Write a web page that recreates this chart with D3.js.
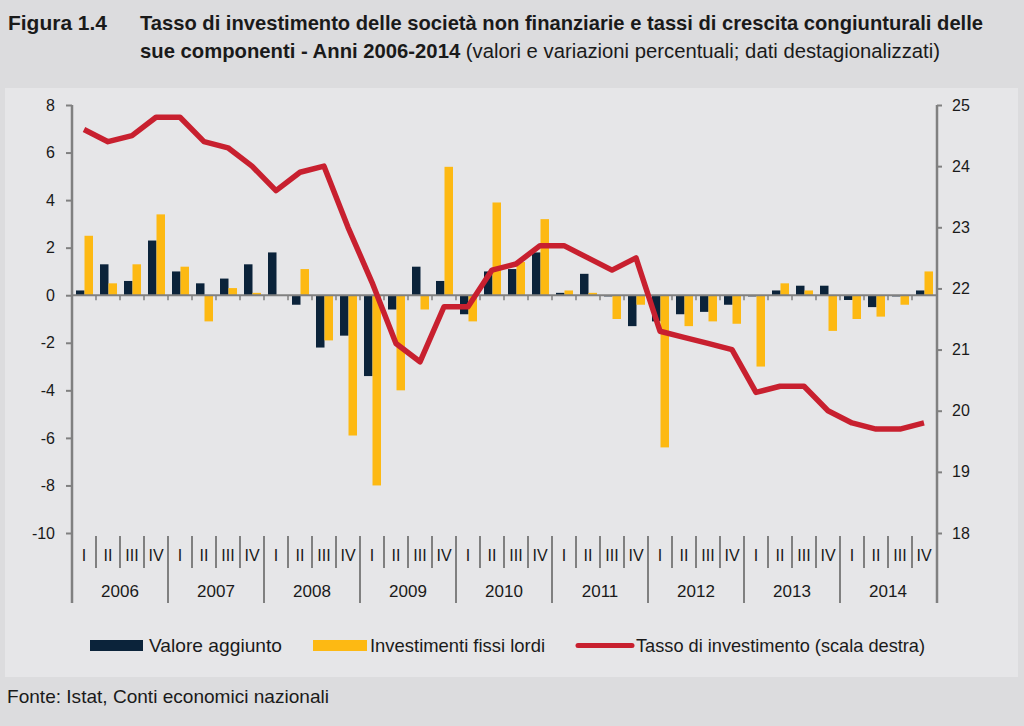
<!DOCTYPE html>
<html><head><meta charset="utf-8">
<script src="https://cdn.jsdelivr.net/npm/d3@7"></script>
<style>
html,body{margin:0;padding:0;background:#dcdcde;}
svg{display:block;}
</style></head>
<body>
<svg id="chart" width="1024" height="726"></svg>
<script>
const years = ["2006","2007","2008","2009","2010","2011","2012","2013","2014"];
const quarterLabels = ["I","II","III","IV"];
const valoreAggiunto = [0.2,1.3,0.6,2.3, 1.0,0.5,0.7,1.3, 1.8,-0.4,-2.2,-1.7, -3.4,-0.6,1.2,0.6,
  -0.8,1.0,1.1,1.8, 0.1,0.9,-0.05,-1.3, -1.1,-0.8,-0.7,-0.4, -0.05,0.2,0.4,0.4, -0.2,-0.5,-0.05,0.2];
const investimenti = [2.5,0.5,1.3,3.4, 1.2,-1.1,0.3,0.1, 0.0,1.1,-1.9,-5.9, -8.0,-4.0,-0.6,5.4,
  -1.1,3.9,1.4,3.2, 0.2,0.1,-1.0,-0.4, -6.4,-1.3,-1.1,-1.2, -3.0,0.5,0.2,-1.5, -1.0,-0.9,-0.4,1.0];
const tassoInvestimento = [24.6,24.4,24.5,24.8, 24.8,24.4,24.3,24.0, 23.6,23.9,24.0,23.0, 22.1,21.1,20.8,21.7,
  21.7,22.3,22.4,22.7, 22.7,22.5,22.3,22.5, 21.3,21.2,21.1,21.0, 20.3,20.4,20.4,20.0, 19.8,19.7,19.7,19.8];
const leftTicks = [8,6,4,2,0,-2,-4,-6,-8,-10];
const rightTicks = [25,24,23,22,21,20,19,18];
const seriesNames = ["Valore  aggiunto","Investimenti fissi lordi","Tasso di investimento (scala destra)"];

const colDark = "#0b233a", colYellow = "#fdb913", colRed = "#c8202f", colAxis = "#808080", colText = "#1a1a1a";
const fontMain = "Arial,'Liberation Sans',sans-serif";

const svg = d3.select("#chart");
const quarters = [];
years.forEach(y => quarterLabels.forEach(q => quarters.push(y + "-" + q)));

const L = 72, R = 936, T = 105, B = 533;
const x0 = d3.scaleBand().domain(quarters).range([L, R]).padding(0);
const x1 = d3.scaleBand().domain(["va","inv"]).range([4, 21]).padding(0);
const yL = d3.scaleLinear().domain([-10, 8]).range([B, T]);
const yR = d3.scaleLinear().domain([18, 25]).range([B, T]);

// panel
svg.append("rect").attr("x",5).attr("y",88).attr("width",1013).attr("height",589).attr("fill","#e6e6e8");

// title
const title = svg.append("g").attr("font-family",fontMain).attr("fill",colText).attr("font-size",20.5);
title.append("text").attr("x",8).attr("y",30).attr("font-weight","bold")
  .attr("textLength",99).attr("lengthAdjust","spacingAndGlyphs").text("Figura 1.4");
title.append("text").attr("x",140).attr("y",30).attr("font-weight","bold")
  .attr("textLength",843).attr("lengthAdjust","spacingAndGlyphs")
  .text("Tasso di investimento delle società non finanziarie e tassi di crescita congiunturali delle");
const t2 = title.append("text").attr("x",140).attr("y",58).attr("textLength",800).attr("lengthAdjust","spacingAndGlyphs");
t2.append("tspan").attr("font-weight","bold").text("sue componenti - Anni 2006-2014");
t2.append("tspan").text(" (valori e variazioni percentuali; dati destagionalizzati)");

// bars
const data = quarters.map((q,i) => ({q, va: valoreAggiunto[i], inv: investimenti[i], rate: tassoInvestimento[i]}));
const gBars = svg.append("g");
[["va",colDark],["inv",colYellow]].forEach(([k,c]) => {
  gBars.selectAll("rect."+k).data(data).join("rect").attr("class",k)
    .attr("x", d => x0(d.q) + x1(k))
    .attr("width", x1.bandwidth())
    .attr("y", d => yL(Math.max(0, d[k])))
    .attr("height", d => Math.abs(yL(d[k]) - yL(0)))
    .attr("fill", c);
});

// zero line with quarter ticks
const gZero = svg.append("g");
gZero.append("line").attr("x1",L).attr("x2",R).attr("y1",yL(0)).attr("y2",yL(0)).attr("stroke",colAxis).attr("stroke-width",2);
gZero.selectAll("line.zt").data(quarters.slice(1)).join("line").attr("class","zt")
  .attr("x1", d => x0(d)).attr("x2", d => x0(d)).attr("y1", yL(0)).attr("y2", yL(0)+5)
  .attr("stroke",colAxis).attr("stroke-width",1.5);

// left axis
const axL = svg.append("g").attr("transform",`translate(${L},0)`)
  .call(d3.axisLeft(yL).tickValues(leftTicks).tickSize(6).tickPadding(11).tickFormat(d => String(d)));
axL.select(".domain").remove();
axL.selectAll(".tick line").attr("stroke",colAxis).attr("stroke-width",2);
axL.selectAll(".tick text").attr("font-family",fontMain).attr("font-size",16).attr("fill",colText);

// right axis
const axR = svg.append("g").attr("transform",`translate(${R+1},0)`)
  .call(d3.axisRight(yR).tickValues(rightTicks).tickSize(5).tickPadding(10).tickFormat(d => String(d)));
axR.select(".domain").remove();
axR.selectAll(".tick line").attr("stroke",colAxis).attr("stroke-width",2);
axR.selectAll(".tick text").attr("font-family",fontMain).attr("font-size",16).attr("fill",colText);

// axis lines
svg.append("line").attr("x1",L).attr("x2",L).attr("y1",T).attr("y2",603).attr("stroke",colAxis).attr("stroke-width",2.5);
svg.append("line").attr("x1",R+1).attr("x2",R+1).attr("y1",T).attr("y2",603).attr("stroke",colAxis).attr("stroke-width",2.5);

// category axis
const gCat = svg.append("g");
quarters.forEach((q,i) => {
  if (i % 4 !== 0) {
    gCat.append("line").attr("x1",x0(q)).attr("x2",x0(q)).attr("y1",536).attr("y2",568).attr("stroke",colAxis).attr("stroke-width",2);
  } else if (i > 0) {
    gCat.append("line").attr("x1",x0(q)).attr("x2",x0(q)).attr("y1",536).attr("y2",603).attr("stroke",colAxis).attr("stroke-width",2);
  }
});
gCat.selectAll("text.q").data(quarters).join("text").attr("class","q")
  .attr("x", d => x0(d) + x0.bandwidth()/2).attr("y", 561)
  .attr("text-anchor","middle").attr("font-family",fontMain).attr("font-size",16).attr("fill",colText)
  .text(d => d.split("-")[1]);
gCat.selectAll("text.y").data(years).join("text").attr("class","y")
  .attr("x", y => (x0(y+"-I") + x0(y+"-IV") + x0.bandwidth())/2).attr("y", 597)
  .attr("text-anchor","middle").attr("font-family",fontMain).attr("font-size",17).attr("fill",colText)
  .text(d => d);

// red line
const line = d3.line().x(d => x0(d.q) + x0.bandwidth()/2).y(d => yR(d.rate));
svg.append("path").datum(data).attr("d", line).attr("fill","none").attr("stroke",colRed).attr("stroke-width",5.5).attr("stroke-linejoin","round");

// legend
const lg = svg.append("g").attr("font-family",fontMain).attr("font-size",19).attr("fill",colText);
lg.append("rect").attr("x",90).attr("y",640).attr("width",53).attr("height",11).attr("fill",colDark);
lg.append("text").attr("x",149).attr("y",652).attr("textLength",133).attr("lengthAdjust","spacingAndGlyphs").text(seriesNames[0]);
lg.append("rect").attr("x",313).attr("y",640).attr("width",54).attr("height",11).attr("fill",colYellow);
lg.append("text").attr("x",370).attr("y",652).attr("textLength",175).attr("lengthAdjust","spacingAndGlyphs").text(seriesNames[1]);
lg.append("line").attr("x1",578).attr("x2",632).attr("y1",645.5).attr("y2",645.5).attr("stroke",colRed).attr("stroke-width",5).attr("stroke-linecap","round");
lg.append("text").attr("x",636).attr("y",652).attr("textLength",289).attr("lengthAdjust","spacingAndGlyphs").text(seriesNames[2]);

// source
svg.append("text").attr("x",7).attr("y",703).attr("font-family",fontMain).attr("font-size",19).attr("fill",colText)
  .attr("textLength",322).attr("lengthAdjust","spacingAndGlyphs")
  .text("Fonte: Istat, Conti economici nazionali");
</script>
</body></html>
